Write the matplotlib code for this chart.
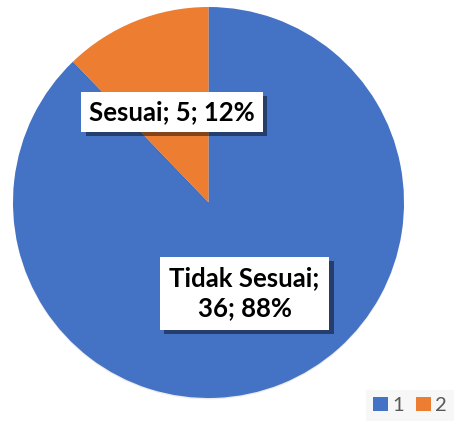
import matplotlib
matplotlib.use("Agg")
import matplotlib.pyplot as plt
import matplotlib.patheffects as pe
from matplotlib.patches import Patch

categories = ["Tidak Sesuai", "Sesuai"]
values = [36, 5]
legend_labels = ["1", "2"]
colors = ["#4472C4", "#ED7D31"]

W, H = 454, 421
fig = plt.figure(figsize=(W / 100, H / 100), dpi=100)
ax = fig.add_axes([0, 0, 1, 1])

cx, cy, r = 208.5, H - 202.5, 195.5
wedges, _ = ax.pie(values, colors=colors, startangle=90, counterclock=False,
                   center=(cx, cy), radius=r, frame=True,
                   wedgeprops=dict(linewidth=0))
for w in wedges:
    w.set_path_effects([pe.SimplePatchShadow(offset=(0, -1), shadow_rgbFace="#000000", alpha=0.08), pe.Normal()])

ax.set_xlim(0, W)
ax.set_ylim(0, H)
ax.set_aspect("equal")
ax.axis("off")

total = sum(values)
label_pos = [(244.5, H - 293.5), (172, H - 112)]
texts = [f"{categories[0]};\n{values[0]}; {round(100*values[0]/total)}%",
         f"{categories[1]}; {values[1]}; {round(100*values[1]/total)}%"]
pads = [0.38, 0.3]
for (x, y), t, p in zip(label_pos, texts, pads):
    txt = ax.text(x, y, t, ha="center", va="center", fontsize=18.5, fontweight="bold",
                  family="Lato", color="#000000", linespacing=1.3,
                  bbox=dict(boxstyle=f"square,pad={p}", facecolor="white", edgecolor="none"))
    txt.get_bbox_patch().set_path_effects([
        pe.SimplePatchShadow(offset=(3, -3), shadow_rgbFace="#000000", alpha=0.45),
        pe.Normal()])

handles = [Patch(facecolor=c, edgecolor="none") for c in colors]
leg = ax.legend(handles, legend_labels, loc="lower right", bbox_to_anchor=(1.0, 0.0),
                ncol=2, frameon=True,
                facecolor="#f6f6f6", edgecolor="none", fancybox=False,
                handlelength=0.75, handleheight=0.75, handletextpad=0.2,
                columnspacing=0.6, borderaxespad=0.0, borderpad=0.35,
                prop=dict(family="Lato", size=14.5))
for t in leg.get_texts():
    t.set_color("#595959")

fig.savefig("out.png", dpi=100, facecolor="white")
